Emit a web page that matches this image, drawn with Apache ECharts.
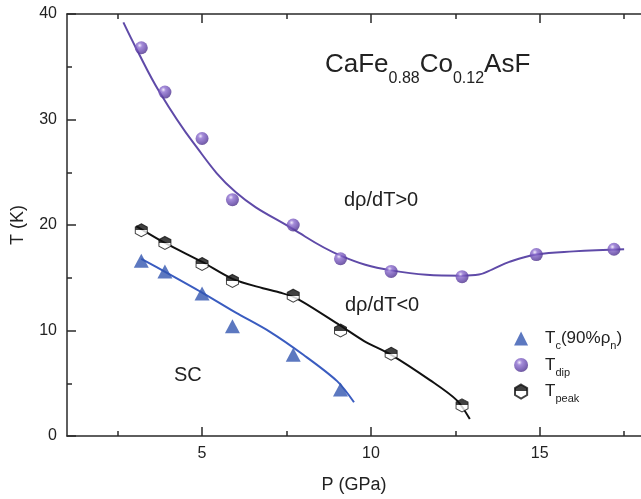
<!DOCTYPE html>
<html><head><meta charset="utf-8">
<script src="https://cdn.jsdelivr.net/npm/echarts@6/dist/echarts.min.js"></script>
<style>html,body{margin:0;padding:0;background:#fff}#c{width:641px;height:499px}</style>
</head><body><div id="c"></div>
<script>
// ---- data ----
const tcP   = [3.2, 3.9, 5.0, 5.9, 7.7, 9.1];
const tcT   = [16.6, 15.6, 13.5, 10.4, 7.7, 4.4];
const dipP  = [3.2, 3.9, 5.0, 5.9, 7.7, 9.1, 10.6, 12.7, 14.9, 17.2];
const dipT  = [36.8, 32.6, 28.2, 22.4, 20.0, 16.8, 15.6, 15.1, 17.2, 17.7];
const peakP = [3.2, 3.9, 5.0, 5.9, 7.7, 9.1, 10.6, 12.7];
const peakT = [19.5, 18.3, 16.3, 14.7, 13.3, 10.0, 7.8, 2.9];
// guide-to-eye curves
const tcFitP   = [3.2, 4.0, 5.0, 6.0, 7.0, 8.0, 9.0, 9.5];
const tcFitT   = [16.8, 15.4, 13.6, 11.7, 9.9, 7.7, 5.2, 3.2];
const peakFitP = [3.05, 3.9, 5.0, 5.9, 6.8, 7.3, 7.8, 9.08, 9.8, 10.6, 11.75, 12.54, 12.93];
const peakFitT = [19.9, 18.3, 16.5, 14.9, 14.0, 13.6, 13.05, 10.5, 9.0, 7.7, 5.3, 3.4, 1.6];
const dipFitP  = [2.67, 3.04, 3.74, 4.74, 6.0, 7.7, 9.1, 10.6, 12.7, 13.2, 13.6, 14.1, 14.9, 16.0, 17.5];
const dipFitT  = [39.2, 36.8, 32.6, 27.8, 23.1, 19.6, 17.1, 15.7, 15.2, 15.3, 15.8, 16.5, 17.2, 17.5, 17.7];
const xMajor = [5, 10, 15];
const xMinor = [2.5, 7.5, 12.5, 17.5];
const legendNames = ['Tc', 'Tdip', 'Tpeak'];

const FONT = '"Liberation Sans", Arial, Helvetica, sans-serif';
const TXT = '#222';
const AX = '#2a2a2a';
const pair = (xs, ys) => xs.map((x, i) => [x, ys[i]]);

const chart = echarts.init(document.getElementById('c'), null, {renderer: 'canvas'});

const xBase = (pos, ticks, len, showLine) => ({
  type: 'value', min: 1, max: 18, position: pos, gridIndex: 0,
  splitLine: {show: false},
  axisLine: {show: showLine, onZero: false, lineStyle: {color: AX, width: 1.5}},
  axisTick: {show: true, inside: true, length: len, customValues: ticks, lineStyle: {color: AX, width: 1.5}},
  axisLabel: {show: false}
});

const xMain = xBase('bottom', xMajor, 9, true);
xMain.axisLabel = {show: true, customValues: xMajor, fontSize: 16, color: TXT, fontFamily: FONT, margin: 10};
xMain.name = 'P (GPa)';
xMain.nameLocation = 'middle';
xMain.nameGap = 40;
xMain.nameTextStyle = {fontSize: 18, color: TXT, fontFamily: FONT};

const hexPath = 'path://M0,-1 L0.866,-0.5 L0.866,0.5 L0,1 L-0.866,0.5 L-0.866,-0.5 Z';

chart.setOption({
  animation: false,
  backgroundColor: '#fff',
  grid: {left: 67, top: 14, width: 575, height: 422, containLabel: false},
  xAxis: [
    xMain,
    xBase('bottom', xMinor, 5, false),
    xBase('top', xMajor, 9, true),
    xBase('top', xMinor, 5, false)
  ],
  yAxis: {
    type: 'value', min: 0, max: 40, interval: 10,
    splitLine: {show: false},
    axisLine: {show: true, lineStyle: {color: AX, width: 1.5}},
    axisTick: {show: true, inside: true, length: 9, lineStyle: {color: AX, width: 1.5}},
    minorTick: {show: true, splitNumber: 2, length: 5, lineStyle: {color: AX, width: 1.5}},
    minorSplitLine: {show: false},
    axisLabel: {fontSize: 16, color: TXT, fontFamily: FONT, margin: 10},
    name: 'T (K)', nameLocation: 'middle', nameGap: 40,
    nameTextStyle: {fontSize: 18, color: TXT, fontFamily: FONT}
  },
  legend: {
    data: legendNames,
    orient: 'vertical', left: 509, top: 325,
    itemWidth: 14, itemHeight: 14, itemGap: 5,
    formatter: n => ({
      Tc: '{t|T}{s|c}{t|(90%ρ}{s|n}{t|)}',
      Tdip: '{t|T}{s|dip}',
      Tpeak: '{t|T}{s|peak}'
    })[n],
    textStyle: {
      color: TXT, fontFamily: FONT, padding: [0, 0, 0, 12],
      rich: {
        t: {fontSize: 17, lineHeight: 26, verticalAlign: 'middle', color: TXT, fontFamily: FONT},
        s: {fontSize: 11, lineHeight: 11, verticalAlign: 'bottom', color: TXT, fontFamily: FONT}
      }
    }
  },
  graphic: [
    {type: 'text', left: 325, top: 52, silent: true, style: {
      text: '{n|CaFe}{s|0.88}{n|Co}{s|0.12}{n|AsF}', fill: TXT,
      rich: {
        n: {fontSize: 26, lineHeight: 44, verticalAlign: 'middle', fontFamily: FONT, fill: TXT},
        s: {fontSize: 16, lineHeight: 16, verticalAlign: 'bottom', fontFamily: FONT, fill: TXT}
      }
    }},
    {type: 'text', left: 344, top: 190, silent: true, style: {text: 'dρ/dT>0', fontSize: 20, fontFamily: FONT, fill: TXT}},
    {type: 'text', left: 345, top: 295, silent: true, style: {text: 'dρ/dT<0', fontSize: 20, fontFamily: FONT, fill: TXT}},
    {type: 'text', left: 174, top: 365, silent: true, style: {text: 'SC', fontSize: 20, fontFamily: FONT, fill: TXT}}
  ],
  series: [
    {type: 'line', name: 'tcFit', data: pair(tcFitP, tcFitT), showSymbol: false, smooth: 0.3, silent: true, z: 2,
     lineStyle: {color: '#3a5cc0', width: 2}},
    {type: 'line', name: 'peakFit', data: pair(peakFitP, peakFitT), showSymbol: false, smooth: 0.3, silent: true, z: 2,
     lineStyle: {color: '#111', width: 2}},
    {type: 'line', name: 'dipFit', data: pair(dipFitP, dipFitT), showSymbol: false, smooth: 0.4, silent: true, z: 2,
     lineStyle: {color: '#5f4aa8', width: 2}},
    {type: 'scatter', name: 'Tc', data: pair(tcP, tcT), symbol: 'triangle', symbolSize: [15, 14], z: 5,
     itemStyle: {color: '#3356b0'}},
    {type: 'scatter', name: 'Tdip', data: pair(dipP, dipT), symbol: 'circle', symbolSize: 13, z: 5,
     itemStyle: {color: {type: 'radial', x: 0.38, y: 0.32, r: 0.75, colorStops: [
       {offset: 0, color: '#efe8fb'}, {offset: 0.25, color: '#8e6fd0'}, {offset: 0.7, color: '#6244a8'}, {offset: 1, color: '#43297e'}]}}},
    {type: 'scatter', name: 'Tpeak', data: pair(peakP, peakT), symbol: hexPath, symbolSize: [12, 13], z: 5,
     itemStyle: {borderColor: '#111', borderWidth: 1, color: {type: 'linear', x: 0, y: 0, x2: 0, y2: 1, colorStops: [
       {offset: 0, color: '#111'}, {offset: 0.5, color: '#111'}, {offset: 0.5, color: '#fff'}, {offset: 1, color: '#fff'}]}}}
  ]
});
</script></body></html>
